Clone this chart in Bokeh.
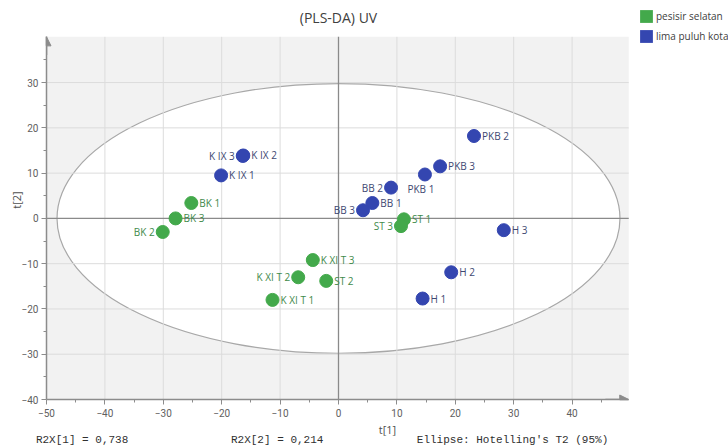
import math
from bokeh.plotting import figure
from bokeh.models import (Range1d, FixedTicker, Label, Legend, LegendItem, LinearAxis,
                          ColumnDataSource, Arrow, NormalHead)
from bokeh.core.properties import value
from bokeh.embed import file_html
from bokeh.resources import INLINE

# ---------------- data ----------------
names_g = ["BK 1", "BK 2", "BK 3", "ST 1", "ST 2", "ST 3", "K XI T 1", "K XI T 2", "K XI T 3"]
t1_g = [-25.2, -30.1, -27.9, 11.2, -2.1, 10.7, -11.3, -6.9, -4.4]
t2_g = [3.4, -3.0, 0.0, -0.2, -13.8, -1.7, -18.0, -13.0, -9.2]

names_b = ["K IX 1", "K IX 2", "K IX 3", "BB 1", "BB 2", "BB 3", "PKB 1", "PKB 2", "PKB 3", "H 1", "H 2", "H 3"]
t1_b = [-20.1, -16.3, -16.4, 5.8, 9.0, 4.2, 14.8, 23.2, 17.4, 14.4, 19.3, 28.3]
t2_b = [9.5, 13.9, 13.8, 3.4, 6.8, 1.8, 9.7, 18.2, 11.5, -17.7, -11.9, -2.6]

group_names = ["pesisir selatan", "lima puluh kota"]
x_ticks = [-50, -40, -30, -20, -10, 0, 10, 20, 30, 40]
y_ticks = [-40, -30, -20, -10, 0, 10, 20, 30]
t1_lim = (-50, 49.7)   # plot area limits
t2_lim = (-40, 40.1)
ellipse_t1 = 96.4      # full width of Hotelling T2 ellipse
ellipse_t2 = 59.6      # full height
r2x_1 = "0,738"
r2x_2 = "0,214"
footer_texts = ["R2X[1] = " + r2x_1, "R2X[2] = " + r2x_2, "Ellipse: Hotelling's T2 (95%)"]

# ---------------- style / layout ----------------
GREEN = "#43a94b"
BLUE = "#3446b0"
GREEN_TXT = "#3f8a4b"
BLUE_TXT = "#3e4872"
AX = "#8c8c8c"
left_labels = {"BK 2", "ST 3", "K XI T 2", "K IX 3", "BB 3", "BB 2"}
below_labels = {"PKB 1"}
footer_pos = [-43.9, -10.5, 29.8]      # centres of the footer texts, in t[1] units

W, H = 728, 448
FL, FB = 46, 47                         # frame spans to the right and top canvas edges
FW, FH = W - FL, H - FB
PX_X = 5.84                             # pixels per t[1] unit
PX_Y = 4.55                             # pixels per t[2] unit

p = figure(width=W, height=H, output_backend="svg", toolbar_location=None,
           x_range=Range1d(t1_lim[0], t1_lim[0] + FW / PX_X),
           y_range=Range1d(t2_lim[0], t2_lim[0] + FH / PX_Y),
           min_border_left=FL, min_border_right=0, min_border_top=0, min_border_bottom=FB)
p.background_fill_color = "white"
p.border_fill_color = "white"
p.outline_line_color = None
p.xgrid.visible = False
p.ygrid.visible = False

# grey plot area and white ellipse
bg = p.quad(left=[t1_lim[0]], right=[t1_lim[1]], bottom=[t2_lim[0]], top=[t2_lim[1]],
            fill_color="#f2f2f2", line_color=None)
bg.level = "image"
er = p.ellipse(x=[0], y=[0], width=[ellipse_t1], height=[ellipse_t2],
               fill_color="white", line_color="#a8a8a8", line_width=1.2)
er.level = "image"

# grid lines (bounded to the plot area)
gx = [t for t in x_ticks if t not in (t1_lim[0], 0)]
gy = [t for t in y_ticks if t not in (t2_lim[0], 0)]
g1 = p.segment(x0=gx, y0=[t2_lim[0]] * len(gx), x1=gx, y1=[t2_lim[1]] * len(gx),
               line_color="#dcdcdc", line_width=1)
g2 = p.segment(x0=[t1_lim[0]] * len(gy), y0=gy, x1=[t1_lim[1]] * len(gy), y1=gy,
               line_color="#dcdcdc", line_width=1)
z = p.segment(x0=[0, t1_lim[0]], y0=[t2_lim[0], 0], x1=[0, t1_lim[1]], y1=[t2_lim[1], 0],
              line_color="#8a8a8a", line_width=1.3)
for r in (g1, g2, z):
    r.level = "underlay"

# axes
p.xaxis.ticker = FixedTicker(ticks=x_ticks, minor_ticks=[v + 5 for v in x_ticks])
p.yaxis.ticker = FixedTicker(ticks=y_ticks, minor_ticks=[v + 5 for v in y_ticks])
p.xaxis.bounds = t1_lim
p.yaxis.bounds = t2_lim
p.xaxis.axis_label = "t[1]"
p.yaxis.axis_label = "t[2]"
for ax in (p.xaxis[0], p.yaxis[0]):
    ax.axis_line_color = AX
    ax.axis_line_width = 1.5
    ax.major_tick_line_color = AX
    ax.minor_tick_line_color = AX
    ax.major_tick_out = 5
    ax.major_tick_in = 0
    ax.minor_tick_out = 3
    ax.minor_tick_in = 0
    ax.major_label_text_font = "Roboto"
    ax.major_label_text_font_size = "10px"
    ax.major_label_text_color = "#606060"
    ax.major_label_standoff = 3
    ax.axis_label_text_font = "Open Sans"
    ax.axis_label_text_font_size = "11px"
    ax.axis_label_text_font_style = "normal"
    ax.axis_label_text_color = "#505050"
    ax.axis_label_standoff = 2
p.xaxis.major_label_standoff = 4
p.yaxis.axis_label_standoff = -5

# footer line as an extra, line-less axis
fax = LinearAxis(ticker=FixedTicker(ticks=footer_pos, minor_ticks=[]),
                 major_label_overrides={v: t for v, t in zip(footer_pos, footer_texts)},
                 axis_line_color=None, major_tick_line_color=None, minor_tick_line_color=None,
                 major_tick_out=0, major_tick_in=0, major_label_standoff=-6,
                 major_label_text_font="Liberation Mono", major_label_text_font_size="11px",
                 major_label_text_color="#303030")
p.add_layout(fax, "below")

# axis arrows
p.add_layout(Arrow(end=NormalHead(size=9, fill_color=AX, line_color=AX),
                   x_start=t1_lim[0], y_start=t2_lim[1] - 4, x_end=t1_lim[0], y_end=t2_lim[1],
                   line_color=AX, line_width=1.5))
p.add_layout(Arrow(end=NormalHead(size=9, fill_color=AX, line_color=AX),
                   x_start=t1_lim[1] - 4, y_start=t2_lim[0], x_end=t1_lim[1], y_end=t2_lim[0],
                   line_color=AX, line_width=1.5))


def label_cols(names):
    xo, yo, al = [], [], []
    for n in names:
        if n in left_labels:
            xo.append(-8); yo.append(0); al.append("right")
        elif n in below_labels:
            xo.append(-4); yo.append(15); al.append("center")
        else:
            xo.append(8); yo.append(0); al.append("left")
    return xo, yo, al


legend_items = []
for names, t1, t2, col, tcol, gname in ((names_g, t1_g, t2_g, GREEN, GREEN_TXT, group_names[0]),
                                        (names_b, t1_b, t2_b, BLUE, BLUE_TXT, group_names[1])):
    xo, yo, al = label_cols(names)
    src = ColumnDataSource(dict(x=t1, y=t2, name=names, xo=xo, yo=yo, al=al))
    p.text(x="x", y="y", text="name", x_offset="xo", y_offset="yo", text_align="al",
           text_baseline="middle", text_font=value("Open Sans"), text_font_size="10px",
           text_color=tcol, source=src)
    p.scatter(x="x", y="y", size=13, fill_color=col, line_color=col, line_width=1, source=src)
    # zero-area swatch renderer on the same points: draws nothing, gives a square legend key
    sw = p.quad(left="x", right="x", bottom="y", top="y", fill_color=col, line_color=None, source=src)
    legend_items.append(LegendItem(label=gname, renderers=[sw]))

# legend (inside the frame, top right corner of the canvas)
legend = Legend(items=legend_items,
                location=(638 - FL, FH - 45.5), padding=0, margin=0, spacing=4,
                glyph_width=16, glyph_height=16, label_standoff=2,
                label_text_font="Open Sans", label_text_font_size="10px",
                label_text_color="#404040", label_height=16,
                border_line_color=None, background_fill_alpha=0)
p.add_layout(legend)

# title
p.add_layout(Label(x=338 - FL, y=FH - 19, x_units="screen", y_units="screen",
                   text="(PLS-DA) UV", text_font="Open Sans", text_font_size="14px",
                   text_align="center", text_baseline="middle", text_color="#404040"))

open("out.html", "w").write(file_html(p, INLINE))
